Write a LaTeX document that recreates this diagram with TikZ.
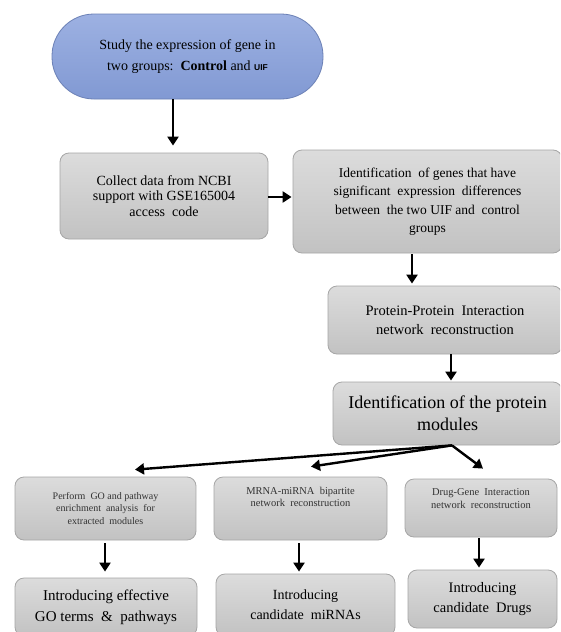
\documentclass[tikz,border=0pt]{standalone}
\usepackage{fontspec}
\setmainfont{Liberation Serif}
\newfontfamily\uiffont{Liberation Sans}
\usetikzlibrary{arrows.meta,shapes.misc}
\definecolor{ovaltop}{HTML}{9DB1E2}
\definecolor{ovalbot}{HTML}{8199D3}
\definecolor{ovaledge}{HTML}{6C81B6}
\definecolor{boxtop}{HTML}{DCDCDC}
\definecolor{boxbot}{HTML}{C2C2C2}
\definecolor{boxedge}{HTML}{A6A6A6}
\tikzset{
  flowbox/.style={draw=boxedge, line width=0.8pt, rounded corners=9pt,
    top color=boxtop, bottom color=boxbot, align=center, inner sep=2pt},
  ovalbox/.style={draw=ovaledge, line width=0.8pt, rounded corners=42pt,
    top color=ovaltop, bottom color=ovalbot, align=center},
  flowarrow/.style={line width=2.4pt, -{Triangle[length=9pt,width=11pt]}},
  smalltext/.style={font=\fontsize{10}{12.5}\selectfont, text=black!80},
}
\begin{document}
\begin{tikzpicture}[x=1pt,y=-1pt]
\useasboundingbox (0,0) rectangle (560,632);
\clip (0,0) rectangle (560,632);
\fill[white] (0,0) rectangle (560,632);

\node[ovalbox, minimum width=271pt, minimum height=85pt, font=\fontsize{14}{21}\selectfont] (study) at (187.5,56.5)
  {Study\ the\ expression\ of\ gene\ in\\
   two\ groups:\ \ \textbf{Control}\ and\ {\uiffont\bfseries\fontsize{8.5}{10}\selectfont UIF}};

\node[flowbox, minimum width=208pt, minimum height=86pt, font=\fontsize{14}{15.5}\selectfont] (collect) at (164,196)
  {Collect data from NCBI\\
   support with GSE165004\\
   access\ \ code};

\node[flowbox, minimum width=269pt, minimum height=103pt, font=\fontsize{13.5}{18.5}\selectfont] (ident) at (427.5,201.5)
  {Identification\ \ of genes\ that have\\
   significant\ \ expression\ \ differences\\
   between\ \ the two UIF and\ \ control\\
   groups};

\node[flowbox, minimum width=234pt, minimum height=68pt, font=\fontsize{14.5}{19}\selectfont] (ppi) at (445,320)
  {Protein-Protein\ \ Interaction\\
   network\ \ reconstruction};

\node[flowbox, minimum width=229pt, minimum height=63pt, font=\fontsize{18}{22}\selectfont] (modules) at (447.5,413.5)
  {Identification of the protein\\
   modules};

\node[flowbox, smalltext, minimum width=181pt, minimum height=63pt] (go) at (105.5,508.5)
  {Perform\ \ GO and pathway\\
   enrichment\ \ analysis\ \ for\\
   extracted\ \ modules};

\node[flowbox, smalltext, minimum width=173pt, minimum height=63pt, font=\fontsize{10.5}{12.5}\selectfont] (mrna) at (300.5,508.5)
  {MRNA-miRNA\ \ bipartite\\
   network\ \ reconstruction\\[11pt]\mbox{}};

\node[flowbox, smalltext, minimum width=152pt, minimum height=58pt, font=\fontsize{10.5}{12.5}\selectfont] (drug) at (481,508)
  {Drug-Gene\ \ Interaction\\
   network\ \ reconstruction\\[6pt]\mbox{}};

\node[flowbox, minimum width=182pt, minimum height=58pt, font=\fontsize{15}{21}\selectfont] (goterms) at (106,607)
  {Introducing effective\\
   GO terms\ \ \&\ \ pathways};

\node[flowbox, minimum width=179pt, minimum height=62pt, font=\fontsize{14}{20}\selectfont] (mirnas) at (305.5,605)
  {Introducing\\
   candidate\ \ miRNAs};

\node[flowbox, minimum width=149pt, minimum height=58pt, font=\fontsize{14.5}{20}\selectfont] (drugs) at (482.5,599)
  {Introducing\\
   candidate\ \ Drugs};

\coordinate (fork) at ([xshift=4.5pt]modules.south);

\draw[flowarrow, shorten >=7pt] ([xshift=-14.5pt]study.south) -- ([xshift=9pt]collect.north);
\draw[flowarrow, shorten >=1pt] (collect.east |- 0,197) -- (ident.west |- 0,197);
\draw[flowarrow, shorten <=1pt, shorten >=2pt] ([xshift=-15.5pt]ident.south) -- ([xshift=-15.5pt]ident.south |- ppi.north);
\draw[flowarrow, shorten >=1pt] ([xshift=6pt]ppi.south) -- ([xshift=6pt]ppi.south |- modules.north);
\draw[flowarrow] (fork) -- ([xshift=29.5pt,yshift=7pt]go.north);
\draw[flowarrow] (fork) -- ([xshift=10.5pt,yshift=10pt]mrna.north);
\draw[flowarrow] (fork) -- ([xshift=2pt,yshift=10pt]drug.north);
\draw[flowarrow, shorten <=3pt, shorten >=6pt] ([xshift=-0.5pt]go.south) -- ([xshift=-0.5pt]go.south |- goterms.north);
\draw[flowarrow, shorten <=3pt, shorten >=2pt] ([xshift=-1.5pt]mrna.south) -- ([xshift=-1.5pt]mrna.south |- mirnas.north);
\draw[flowarrow, shorten <=1pt, shorten >=2pt] ([xshift=-2pt]drug.south) -- ([xshift=-2pt]drug.south |- drugs.north);
\end{tikzpicture}
\end{document}
